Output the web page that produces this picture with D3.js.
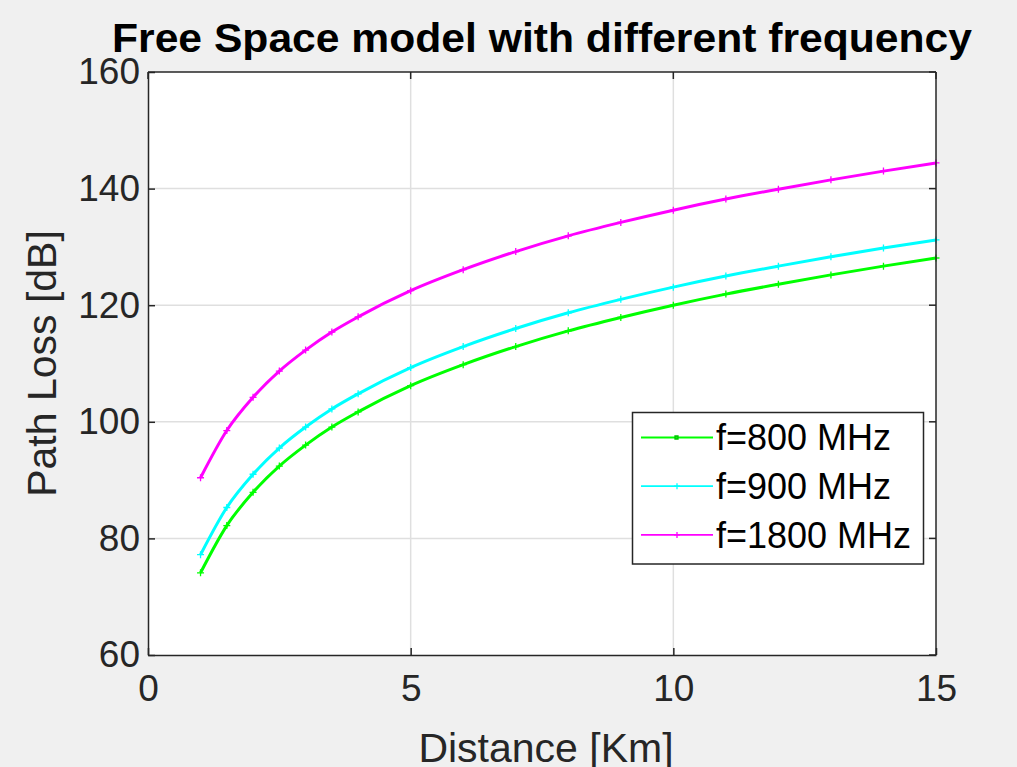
<!DOCTYPE html>
<html>
<head>
<meta charset="utf-8">
<script src="https://cdn.jsdelivr.net/npm/d3@7"></script>
<style>
  html, body { margin: 0; padding: 0; background: #f0f0f0; }
  svg { display: block; font-family: "Liberation Sans", Arial, sans-serif; }
</style>
</head>
<body>
<script>
// distance [km] and path loss [dB]
var distance = [1, 1.5, 2, 2.5, 3, 3.5, 4, 5, 6, 7, 8, 9, 10, 11, 12, 13, 14, 15];
var loss800  = [74.1, 82.2, 87.9, 92.4, 96.0, 99.1, 101.7, 106.2, 109.8, 112.9, 115.6, 117.9, 120.0, 121.9, 123.6, 125.2, 126.7, 128.1];
var loss900  = [77.2, 85.3, 91.0, 95.5, 99.1, 102.2, 104.8, 109.3, 112.9, 116.0, 118.7, 121.0, 123.1, 125.0, 126.7, 128.3, 129.8, 131.2];
var loss1800 = [90.4, 98.5, 104.2, 108.7, 112.3, 115.4, 118.0, 122.5, 126.1, 129.2, 131.9, 134.2, 136.3, 138.2, 139.9, 141.5, 143.0, 144.4];
var seriesNames = ["f=800 MHz", "f=900 MHz", "f=1800 MHz"];
var seriesColors = ["#00ff00", "#00ffff", "#ff00ff"];
var xTicks = [0, 5, 10, 15];
var yTicks = [60, 80, 100, 120, 140, 160];

var W = 1017, H = 767;
var pL = 148, pR = 936, pT = 72, pB = 655;

var svg = d3.select("body").append("svg")
  .attr("width", W).attr("height", H);

svg.append("rect").attr("width", W).attr("height", H).attr("fill", "#f0f0f0");

var x = d3.scaleLinear().domain([0, 15]).range([pL, pR]);
var y = d3.scaleLinear().domain([60, 160]).range([pB, pT]);

// plot area
svg.append("rect")
  .attr("x", pL).attr("y", pT)
  .attr("width", pR - pL).attr("height", pB - pT)
  .attr("fill", "#ffffff");

// grid
svg.append("g").selectAll("line")
  .data(xTicks.slice(1, -1))
  .enter().append("line")
  .attr("x1", function(d) { return x(d); })
  .attr("x2", function(d) { return x(d); })
  .attr("y1", pT).attr("y2", pB)
  .attr("stroke", "#dfdfdf").attr("stroke-width", 1.5);

svg.append("g").selectAll("line")
  .data(yTicks.slice(1, -1))
  .enter().append("line")
  .attr("y1", function(d) { return y(d); })
  .attr("y2", function(d) { return y(d); })
  .attr("x1", pL).attr("x2", pR)
  .attr("stroke", "#dfdfdf").attr("stroke-width", 1.5);

// series
var series = [loss800, loss900, loss1800];
var line = d3.line()
  .x(function(d) { return x(d[0]); })
  .y(function(d) { return y(d[1]); })
  .curve(d3.curveMonotoneX);

series.forEach(function(vals, i) {
  var pts = distance.map(function(d, j) { return [d, vals[j]]; });
  svg.append("path")
    .datum(pts)
    .attr("d", line)
    .attr("fill", "none")
    .attr("stroke", seriesColors[i])
    .attr("stroke-width", 3);
  svg.append("g").selectAll("path")
    .data(pts)
    .enter().append("path")
    .attr("d", function(d) {
      var cx = x(d[0]), cy = y(d[1]);
      return "M" + (cx - 3.5) + "," + cy + "H" + (cx + 3.5) + "M" + cx + "," + (cy - 3.5) + "V" + (cy + 3.5);
    })
    .attr("stroke", seriesColors[i])
    .attr("stroke-width", 1.3);
});

// axes (box with inward ticks)
var axisColor = "#262626";
var xAxis = svg.append("g")
  .attr("transform", "translate(0," + pB + ")")
  .call(d3.axisBottom(x).tickValues(xTicks).tickSizeInner(-7).tickSizeOuter(0).tickPadding(20));
var yAxis = svg.append("g")
  .attr("transform", "translate(" + pL + ",0)")
  .call(d3.axisLeft(y).tickValues(yTicks).tickSizeInner(-7).tickSizeOuter(0).tickPadding(8));

[xAxis, yAxis].forEach(function(g) {
  g.select(".domain").attr("stroke", axisColor).attr("stroke-width", 1.5);
  g.selectAll(".tick line").attr("stroke", axisColor).attr("stroke-width", 1.5);
  g.selectAll(".tick text")
    .attr("fill", "#262626")
    .attr("font-size", "37px")
    .attr("font-family", "Liberation Sans, Arial, sans-serif");
});

// top / right box sides with ticks
svg.append("line").attr("x1", pL).attr("x2", pR).attr("y1", pT).attr("y2", pT)
  .attr("stroke", axisColor).attr("stroke-width", 1.5);
svg.append("line").attr("x1", pR).attr("x2", pR).attr("y1", pT).attr("y2", pB)
  .attr("stroke", axisColor).attr("stroke-width", 1.5);
svg.append("g").selectAll("line")
  .data(xTicks)
  .enter().append("line")
  .attr("x1", function(d) { return x(d); })
  .attr("x2", function(d) { return x(d); })
  .attr("y1", pT).attr("y2", pT + 7)
  .attr("stroke", axisColor).attr("stroke-width", 1.5);
svg.append("g").selectAll("line")
  .data(yTicks)
  .enter().append("line")
  .attr("y1", function(d) { return y(d); })
  .attr("y2", function(d) { return y(d); })
  .attr("x1", pR - 7).attr("x2", pR)
  .attr("stroke", axisColor).attr("stroke-width", 1.5);

// title & labels
svg.append("text")
  .attr("x", (pL + pR) / 2).attr("y", 52)
  .attr("text-anchor", "middle")
  .attr("font-size", "41px").attr("font-weight", "bold")
  .attr("fill", "#000")
  .attr("textLength", 860).attr("lengthAdjust", "spacingAndGlyphs")
  .text("Free Space model with different frequency");

svg.append("text")
  .attr("x", (pL + pR) / 2 + 4).attr("y", 762)
  .attr("text-anchor", "middle")
  .attr("font-size", "41px")
  .attr("fill", "#262626")
  .text("Distance [Km]");

svg.append("text")
  .attr("transform", "translate(56," + ((pT + pB) / 2) + ") rotate(-90)")
  .attr("text-anchor", "middle")
  .attr("font-size", "41px")
  .attr("fill", "#262626")
  .text("Path Loss [dB]");

// legend
var lg = svg.append("g");
lg.append("rect")
  .attr("x", 632.5).attr("y", 412.5)
  .attr("width", 291).attr("height", 151.5)
  .attr("fill", "#ffffff")
  .attr("stroke", axisColor).attr("stroke-width", 1.5);

var rows = lg.selectAll("g.row")
  .data(seriesNames)
  .enter().append("g")
  .attr("class", "row")
  .attr("transform", function(d, i) { return "translate(0," + (437.5 + i * 48.7) + ")"; });

rows.append("line")
  .attr("x1", 641).attr("x2", 713)
  .attr("y1", 0).attr("y2", 0)
  .attr("stroke", function(d, i) { return seriesColors[i]; })
  .attr("stroke-width", 1.8);

rows.append("path")
  .attr("d", function(d, i) {
    return i === 0 ? "M675,-1.5h3v3h-3z" : "M677,-3V3M674,0H680";
  })
  .attr("fill", function(d, i) { return seriesColors[i]; })
  .attr("stroke", function(d, i) { return i === 0 ? "#00c000" : seriesColors[i]; })
  .attr("stroke-width", 1.3);

rows.append("text")
  .attr("x", 716).attr("y", 0)
  .attr("dy", "0.36em")
  .attr("font-size", "36px")
  .attr("fill", "#000")
  .text(function(d) { return d; });
</script>
</body>
</html>
